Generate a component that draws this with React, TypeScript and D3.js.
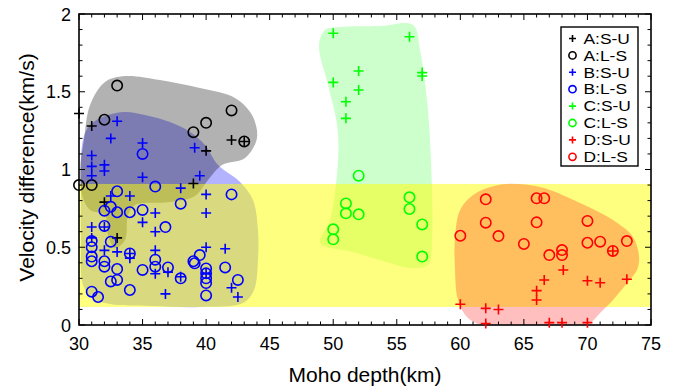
import React from 'react';
import * as d3 from 'd3';

type P = [number, number];

// ---- data ----
const aSU: P[] = [[30, 1.36], [31, 1.28], [40, 1.12], [42, 1.19], [43, 1.18], [39, 0.91], [32, 0.79], [33, 0.56]];
const aLS: P[] = [[33, 1.54], [32, 1.32], [39, 1.24], [40, 1.3], [42, 1.38], [43, 1.18], [30, 0.9], [31, 0.9]];
const bSU: P[] = [
  [33, 1.31], [32.5, 1.2], [35, 1.17], [39.1, 1.14], [31, 1.09], [31, 1.02], [32, 1.03], [32, 0.99], [31, 0.96],
  [35, 0.95], [39.5, 0.96], [38, 0.88], [34, 0.83], [32.5, 0.83], [40, 0.84], [40, 0.72], [36, 0.72], [35, 0.66],
  [36, 0.6], [31, 0.63], [32, 0.63], [31, 0.56], [32, 0.48], [33, 0.47], [34, 0.46], [34, 0.43], [36, 0.48],
  [36, 0.33], [37, 0.34], [38, 0.31], [40, 0.5], [41.5, 0.49], [40, 0.33], [42, 0.24], [42.5, 0.18], [36.8, 0.2],
];
const bLS: P[] = [
  [35, 1.1], [36, 0.89], [33, 0.86], [42, 0.84], [38, 0.78], [32, 0.735], [32.5, 0.76], [33, 0.725], [34, 0.725],
  [35, 0.74], [36.8, 0.63], [32, 0.637], [31, 0.54], [31, 0.5], [32.5, 0.536], [34, 0.46], [31, 0.44], [31, 0.41],
  [32, 0.41], [32, 0.375], [33, 0.36], [32.5, 0.28], [33, 0.29], [35, 0.354], [36, 0.42], [36, 0.375], [37, 0.37],
  [38, 0.3], [39, 0.41], [39.5, 0.45], [39.1, 0.397], [40, 0.364], [40, 0.332], [40, 0.3], [40, 0.27], [40, 0.19],
  [41.5, 0.37], [42.5, 0.29], [34, 0.225], [31, 0.214], [31.5, 0.18],
];
const cSU: P[] = [[50, 1.876], [56, 1.854], [52, 1.633], [50, 1.56], [57, 1.623], [57, 1.601], [52, 1.511], [51, 1.436], [51, 1.329]];
const cLS: P[] = [[52, 0.96], [51, 0.782], [51, 0.718], [52, 0.712], [50, 0.615], [50, 0.551], [56, 0.821], [56, 0.746], [57, 0.647], [57, 0.44]];
const dSU: P[] = [
  [60, 0.133], [62, 0.107], [63, 0.1], [62, 0.01], [66, 0.221], [66, 0.161], [66.6, 0.289], [68.1, 0.354],
  [70, 0.285], [71, 0.272], [73.1, 0.294], [67, 0.015], [68, 0.015], [70, 0.015], [72, 0.476],
];
const dLS: P[] = [
  [60, 0.574], [62, 0.808], [62, 0.658], [63, 0.572], [65, 0.521], [66, 0.815], [66.6, 0.815], [66, 0.66],
  [67, 0.45], [68, 0.482], [68, 0.45], [70, 0.669], [70, 0.529], [71, 0.536], [72, 0.476], [73.1, 0.54],
];

// ---- shaded regions ----
const regionA: P[] = [
  [30.39, 1.19], [30.87, 1.415], [32.05, 1.563], [33.62, 1.601], [36.37, 1.576], [39.52, 1.524], [42.27, 1.46],
  [43.61, 1.35], [44.0, 1.203], [43.06, 1.074], [41.25, 1.029], [40.15, 0.932], [39.13, 0.83], [37.16, 0.791],
  [34.41, 0.772], [33.86, 0.707], [33.62, 0.547], [32.83, 0.495], [32.28, 0.579], [32.05, 0.707], [30.87, 0.74],
  [30.24, 0.836], [30.08, 0.997],
];
const regionB: P[] = [
  [30.31, 1.19], [30.87, 1.286], [32.05, 1.344], [33.62, 1.37], [35.19, 1.35], [37.16, 1.305], [38.73, 1.241],
  [39.91, 1.158], [40.94, 1.029], [42.67, 0.92], [43.69, 0.804], [44.08, 0.611], [44.08, 0.418], [43.77, 0.225],
  [42.9, 0.141], [39.52, 0.116], [35.59, 0.122], [32.44, 0.135], [31.02, 0.174], [30.31, 0.257], [30.16, 0.547],
  [30.16, 0.868],
];
const regionC: P[] = [
  [48.88, 1.8], [49.35, 1.897], [50.54, 1.916], [53.68, 1.923], [56.28, 1.929], [56.83, 1.768], [57.38, 1.447],
  [57.69, 1.061], [57.77, 0.547], [57.46, 0.386], [56.04, 0.367], [53.92, 0.412], [51.56, 0.469], [48.96, 0.527],
  [49.75, 0.675], [50.38, 1.061], [50.3, 1.286], [49.59, 1.543],
];
const regionD: P[] = [
  [59.58, 0.566], [59.98, 0.74], [61.0, 0.836], [62.34, 0.887], [63.67, 0.907], [66.27, 0.887], [69.42, 0.785],
  [72.01, 0.675], [73.59, 0.566], [74.06, 0.437], [73.9, 0.354], [73.12, 0.27], [72.01, 0.161], [70.99, 0.077],
  [70.2, 0.013], [68.63, -0.019], [64.7, -0.026], [62.18, -0.013], [60.6, 0.045], [59.82, 0.161], [59.58, 0.354],
];
const bandX: P = [30, 75];
const bandY: P = [0.116, 0.907];

const xMajor = [30, 35, 40, 45, 50, 55, 60, 65, 70, 75];
const yMajor = [0, 0.5, 1, 1.5, 2];
const yLabels = ['0', '0.5', '1', '1.5', '2'];
const legendLabels = ['A:S-U', 'A:L-S', 'B:S-U', 'B:L-S', 'C:S-U', 'C:L-S', 'D:S-U', 'D:L-S'];
const legendColors = ['#000', '#000', '#0000ff', '#0000ff', '#00ff00', '#00ff00', '#ff0000', '#ff0000'];

const FONT = '"Liberation Sans", Arial, Helvetica, sans-serif';

const W = 675, H = 389;
const L = 79, R = 651, T = 14, B = 325;
const x = d3.scaleLinear().domain([30, 75]).range([L, R]);
const y = d3.scaleLinear().domain([0, 2]).range([B, T]);

const blob = d3.line<P>().x(d => x(d[0])).y(d => y(d[1])).curve(d3.curveCatmullRomClosed.alpha(0.5));

const plus = (cx: number, cy: number, h: number) => `M${cx - h},${cy}H${cx + h}M${cx},${cy - h}V${cy + h}`;

function Pluses({ data, color }: { data: P[]; color: string }) {
  return (
    <g stroke={color} strokeWidth={1.6} fill="none">
      {data.map((d, i) => <path key={i} d={plus(x(d[0]), y(d[1]), 5)} />)}
    </g>
  );
}
function Circles({ data, color }: { data: P[]; color: string }) {
  return (
    <g stroke={color} strokeWidth={1.6} fill="none">
      {data.map((d, i) => <circle key={i} cx={x(d[0])} cy={y(d[1])} r={5.2} />)}
    </g>
  );
}

export default function App() {
  const xMinor = d3.range(30, 76, 1);
  const yMinor = d3.range(0, 2.001, 0.1);
  const legX = 561, legY = 27, legW = 77, legH = 139;
  return (
    <svg width={W} height={H} style={{ position: 'absolute', left: 0, top: 0, background: '#fff' }} fontFamily={FONT}>
      <defs>
        <clipPath id="plotclip"><rect x={L} y={T} width={R - L} height={B - T} /></clipPath>
      </defs>
      <g clipPath="url(#plotclip)">
        <path d={blob(regionB) || ''} fill="#0000ff" fillOpacity={0.3} />
        <path d={blob(regionA) || ''} fill="#000" fillOpacity={0.3} />
        <path d={blob(regionC) || ''} fill="#00ff00" fillOpacity={0.2} />
        <rect x={x(bandX[0])} y={y(bandY[1])} width={x(bandX[1]) - x(bandX[0])} height={y(bandY[0]) - y(bandY[1])} fill="#ffff00" fillOpacity={0.5} />
        <path d={blob(regionD) || ''} fill="#ff0000" fillOpacity={0.25} />
      </g>
      <g stroke="#000" strokeWidth={1}>
        {xMinor.map(v => (
          <g key={'xm' + v}>
            <line x1={x(v)} x2={x(v)} y1={B} y2={B - (v % 5 === 0 ? 6 : 3.5)} />
            <line x1={x(v)} x2={x(v)} y1={T} y2={T + (v % 5 === 0 ? 6 : 3.5)} />
          </g>
        ))}
        {yMinor.map((v, i) => (
          <g key={'ym' + i}>
            <line x1={L} x2={L + (i % 5 === 0 ? 6 : 3.5)} y1={y(v)} y2={y(v)} />
            <line x1={R} x2={R - (i % 5 === 0 ? 6 : 3.5)} y1={y(v)} y2={y(v)} />
          </g>
        ))}
      </g>
      <rect x={L} y={T} width={R - L} height={B - T} fill="none" stroke="#000" strokeWidth={1.6} />
      <g fontSize={18} fill="#000">
        {xMajor.map(v => <text key={v} x={x(v)} y={350} textAnchor="middle">{v}</text>)}
        {yMajor.map((v, i) => <text key={v} x={71} y={y(v) + 6.5} textAnchor="end">{yLabels[i]}</text>)}
      </g>
      <text x={(L + R) / 2} y={382} textAnchor="middle" fontSize={21}>Moho depth(km)</text>
      <text transform={`translate(34,167.5) rotate(-90)`} textAnchor="middle" fontSize={21}>Velocity difference(km/s)</text>
      <Pluses data={aSU} color="#000" />
      <Circles data={aLS} color="#000" />
      <Pluses data={bSU} color="#0000ff" />
      <Circles data={bLS} color="#0000ff" />
      <Pluses data={cSU} color="#00ff00" />
      <Circles data={cLS} color="#00ff00" />
      <Pluses data={dSU} color="#ff0000" />
      <Circles data={dLS} color="#ff0000" />
      <rect x={legX} y={legY} width={legW} height={legH} fill="#fff" stroke="#000" strokeWidth={1.4} />
      {legendLabels.map((lab, i) => {
        const cy = 38.5 + i * 16.9;
        const c = legendColors[i];
        return (
          <g key={lab}>
            {i % 2 === 0
              ? <path d={plus(572.5, cy, 3.5)} stroke={c} strokeWidth={1.6} />
              : <circle cx={572.5} cy={cy} r={3.6} fill="none" stroke={c} strokeWidth={1.6} />}
            <text transform={`translate(583.5,${cy + 5.2}) scale(1.2,1)`} fontSize={14.5}>{lab}</text>
          </g>
        );
      })}
    </svg>
  );
}
